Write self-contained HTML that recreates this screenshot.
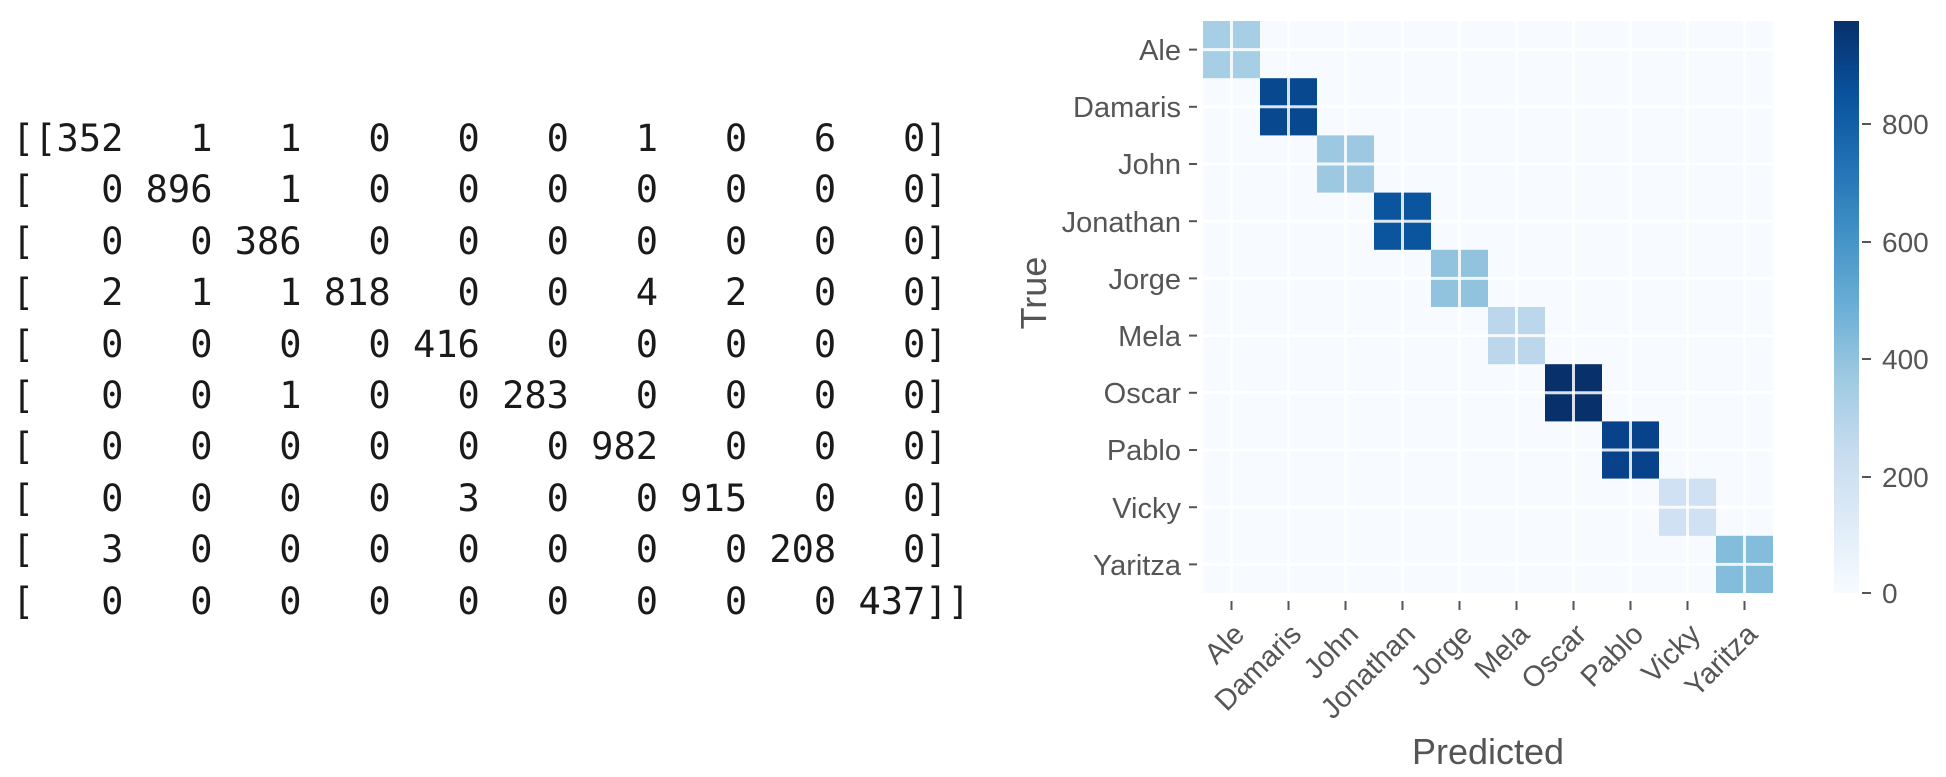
<!DOCTYPE html>
<html><head><meta charset="utf-8"><style>
html,body{margin:0;padding:0;background:#fff;width:1946px;height:777px;overflow:hidden;position:relative}
pre{position:absolute;left:12px;top:113px;margin:0;font-family:"DejaVu Sans Mono","Liberation Mono",monospace;font-size:37px;line-height:51.4px;color:#1a1a1a}
svg{position:absolute;left:0;top:0}
</style></head><body>
<pre>[[352   1   1   0   0   0   1   0   6   0]
[   0 896   1   0   0   0   0   0   0   0]
[   0   0 386   0   0   0   0   0   0   0]
[   2   1   1 818   0   0   4   2   0   0]
[   0   0   0   0 416   0   0   0   0   0]
[   0   0   1   0   0 283   0   0   0   0]
[   0   0   0   0   0   0 982   0   0   0]
[   0   0   0   0   3   0   0 915   0   0]
[   3   0   0   0   0   0   0   0 208   0]
[   0   0   0   0   0   0   0   0   0 437]]</pre>
<svg width="1946" height="777" xmlns="http://www.w3.org/2000/svg" font-family="Liberation Sans, sans-serif">
<defs><linearGradient id="cb" x1="0" y1="1" x2="0" y2="0">
<stop offset="0" stop-color="#f7fbff"/><stop offset="0.125" stop-color="#deebf7"/><stop offset="0.25" stop-color="#c6dbef"/><stop offset="0.375" stop-color="#9ecae1"/><stop offset="0.5" stop-color="#6baed6"/><stop offset="0.625" stop-color="#4292c6"/><stop offset="0.75" stop-color="#2171b5"/><stop offset="0.875" stop-color="#08519c"/><stop offset="1" stop-color="#08306b"/></linearGradient></defs>
<rect x="1203" y="21" width="570" height="572" fill="#f7fbff"/>
<g>
<rect x="1203" y="21" width="57" height="57.2" fill="#a6cee4"/>
<rect x="1260" y="78.2" width="57" height="57.2" fill="#08488e"/>
<rect x="1317" y="135.4" width="57" height="57.2" fill="#9cc9e1"/>
<rect x="1374" y="192.6" width="57" height="57.2" fill="#0b559f"/>
<rect x="1431" y="249.8" width="57" height="57.2" fill="#91c3de"/>
<rect x="1488" y="307" width="57" height="57.2" fill="#bcd7eb"/>
<rect x="1545" y="364.2" width="57" height="57.2" fill="#08306b"/>
<rect x="1602" y="421.4" width="57" height="57.2" fill="#08428a"/>
<rect x="1659" y="478.6" width="57" height="57.2" fill="#cfe1f2"/>
<rect x="1716" y="535.8" width="57" height="57.2" fill="#84bcdb"/>
</g>
<g stroke="#ffffff" stroke-opacity="0.85" stroke-width="3">
<line x1="1231.5" y1="21" x2="1231.5" y2="593"/><line x1="1288.5" y1="21" x2="1288.5" y2="593"/><line x1="1345.5" y1="21" x2="1345.5" y2="593"/><line x1="1402.5" y1="21" x2="1402.5" y2="593"/><line x1="1459.5" y1="21" x2="1459.5" y2="593"/><line x1="1516.5" y1="21" x2="1516.5" y2="593"/><line x1="1573.5" y1="21" x2="1573.5" y2="593"/><line x1="1630.5" y1="21" x2="1630.5" y2="593"/><line x1="1687.5" y1="21" x2="1687.5" y2="593"/><line x1="1744.5" y1="21" x2="1744.5" y2="593"/>
<line x1="1203" y1="49.6" x2="1773" y2="49.6"/><line x1="1203" y1="106.8" x2="1773" y2="106.8"/><line x1="1203" y1="164" x2="1773" y2="164"/><line x1="1203" y1="221.2" x2="1773" y2="221.2"/><line x1="1203" y1="278.4" x2="1773" y2="278.4"/><line x1="1203" y1="335.6" x2="1773" y2="335.6"/><line x1="1203" y1="392.8" x2="1773" y2="392.8"/><line x1="1203" y1="450" x2="1773" y2="450"/><line x1="1203" y1="507.2" x2="1773" y2="507.2"/><line x1="1203" y1="564.4" x2="1773" y2="564.4"/>
</g>
<g stroke="#555" stroke-width="2">
<line x1="1189" y1="49.6" x2="1197" y2="49.6"/><line x1="1189" y1="106.8" x2="1197" y2="106.8"/><line x1="1189" y1="164" x2="1197" y2="164"/><line x1="1189" y1="221.2" x2="1197" y2="221.2"/><line x1="1189" y1="278.4" x2="1197" y2="278.4"/><line x1="1189" y1="335.6" x2="1197" y2="335.6"/><line x1="1189" y1="392.8" x2="1197" y2="392.8"/><line x1="1189" y1="450" x2="1197" y2="450"/><line x1="1189" y1="507.2" x2="1197" y2="507.2"/><line x1="1189" y1="564.4" x2="1197" y2="564.4"/>
<line x1="1231.5" y1="601" x2="1231.5" y2="610"/><line x1="1288.5" y1="601" x2="1288.5" y2="610"/><line x1="1345.5" y1="601" x2="1345.5" y2="610"/><line x1="1402.5" y1="601" x2="1402.5" y2="610"/><line x1="1459.5" y1="601" x2="1459.5" y2="610"/><line x1="1516.5" y1="601" x2="1516.5" y2="610"/><line x1="1573.5" y1="601" x2="1573.5" y2="610"/><line x1="1630.5" y1="601" x2="1630.5" y2="610"/><line x1="1687.5" y1="601" x2="1687.5" y2="610"/><line x1="1744.5" y1="601" x2="1744.5" y2="610"/>
<line x1="1862" y1="124" x2="1871" y2="124"/><line x1="1862" y1="242" x2="1871" y2="242"/><line x1="1862" y1="359" x2="1871" y2="359"/><line x1="1862" y1="477" x2="1871" y2="477"/><line x1="1862" y1="593" x2="1871" y2="593"/>
</g>
<g fill="#555" font-size="29" text-anchor="end">
<text x="1181" y="60">Ale</text><text x="1181" y="117">Damaris</text><text x="1181" y="174">John</text><text x="1181" y="232">Jonathan</text><text x="1181" y="289">Jorge</text><text x="1181" y="346">Mela</text><text x="1181" y="403">Oscar</text><text x="1181" y="460">Pablo</text><text x="1181" y="518">Vicky</text><text x="1181" y="575">Yaritza</text>
</g>
<g fill="#555" font-size="29" text-anchor="end">
<text transform="translate(1246,636) rotate(-45)">Ale</text>
<text transform="translate(1303,636) rotate(-45)">Damaris</text>
<text transform="translate(1360,636) rotate(-45)">John</text>
<text transform="translate(1417,636) rotate(-45)">Jonathan</text>
<text transform="translate(1474,636) rotate(-45)">Jorge</text>
<text transform="translate(1531,636) rotate(-45)">Mela</text>
<text transform="translate(1588,636) rotate(-45)">Oscar</text>
<text transform="translate(1645,636) rotate(-45)">Pablo</text>
<text transform="translate(1702,636) rotate(-45)">Vicky</text>
<text transform="translate(1759,636) rotate(-45)">Yaritza</text>
</g>
<text x="1488" y="764" fill="#555" font-size="36" text-anchor="middle">Predicted</text>
<text transform="translate(1046,293) rotate(-90)" fill="#555" font-size="36" text-anchor="middle">True</text>
<rect x="1834" y="21" width="25" height="572" fill="url(#cb)"/>
<g fill="#555" font-size="28">
<text x="1882" y="134">800</text><text x="1882" y="252">600</text><text x="1882" y="369">400</text><text x="1882" y="487">200</text><text x="1882" y="603">0</text>
</g>
</svg>
</body></html>
